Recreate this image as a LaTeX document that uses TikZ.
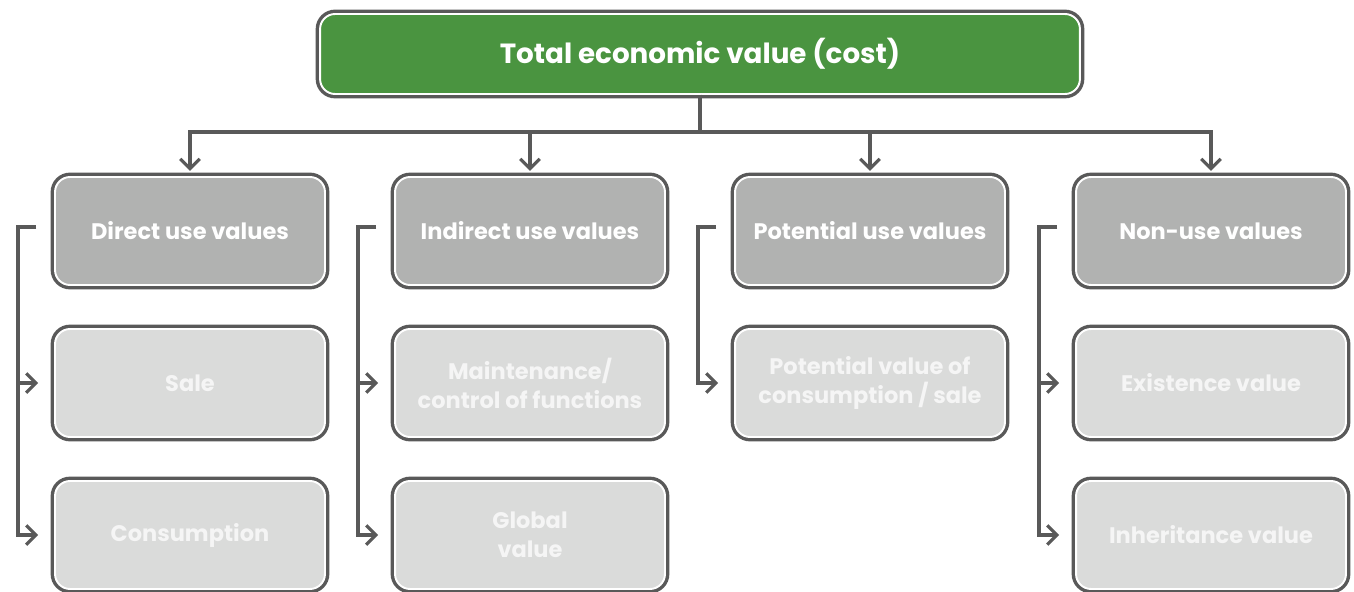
\documentclass[tikz,border=0pt]{standalone}
\usepackage{fontspec}
\setmainfont{Poppins}
\usetikzlibrary{positioning, calc, arrows.meta}

\definecolor{leafgreen}{HTML}{4A9440}
\definecolor{midgray}{HTML}{B1B2B1}
\definecolor{lightgray}{HTML}{DADBDA}
\definecolor{linegray}{HTML}{595959}

\begin{document}
\begin{tikzpicture}[x=0.02cm, y=-0.02cm,
    box/.style={rectangle, rounded corners=0.3cm, align=center,
      text=white, font=\bfseries\fontsize{12.8}{16.5}\selectfont,
      minimum width=5.4cm, minimum height=2.16cm,
      preaction={draw=linegray, line width=5pt},
      draw=white, line width=1.1pt},
    head/.style={box, fill=leafgreen, minimum width=15.2cm,
      minimum height=1.6cm, font=\bfseries\fontsize{15.8}{19}\selectfont},
    kind/.style={box, fill=midgray},
    item/.style={box, fill=lightgray, text=white!96!black},
    link/.style={draw=linegray, line width=2pt},
    >={Straight Barb[length=5.5pt, width=11pt, line width=1.8pt]}]

  \useasboundingbox (0,0) rectangle (1354,591);

  \node[head] (top) at (700,54) {Total economic value (cost)};

  % value kinds
  \node[kind] (d1) at (190,231) {Direct use values};
  \node[kind] (d2) at (530,231) {Indirect use values};
  \node[kind] (d3) at (870,231) {Potential use values};
  \node[kind] (d4) at (1211,231) {Non-use values};

  % items
  \node[item] (s1) at (190,383) {Sale};
  \node[item] (c1) at (190,535) {Consumption};
  \node[item] (s2) at (530,383) {Maintenance/\\control of functions};
  \node[item] (c2) at (530,535) {Global\\value};
  \node[item] (s3) at (870,383) {Potential value of\\consumption / sale};
  \node[item] (s4) at (1211,383) {Existence value};
  \node[item] (c4) at (1211,535) {Inheritance value};

  \coordinate (bus) at (700,132);
  \foreach \n in {d1,d2,d3,d4}
    \draw[link,->,shorten >=3pt] (top.south) -- (bus) -| (\n.north);

  \foreach \k/\m in {d1/s1, d1/c1, d2/s2, d2/c2, d3/s3, d4/s4, d4/c4}
    \draw[link,->] ($(\k.west)+(-18,-4)$) -| ($(\m.west)+(-36,0)$)
      -- ($(\m.west)+(-16,0)$);
\end{tikzpicture}
\end{document}
